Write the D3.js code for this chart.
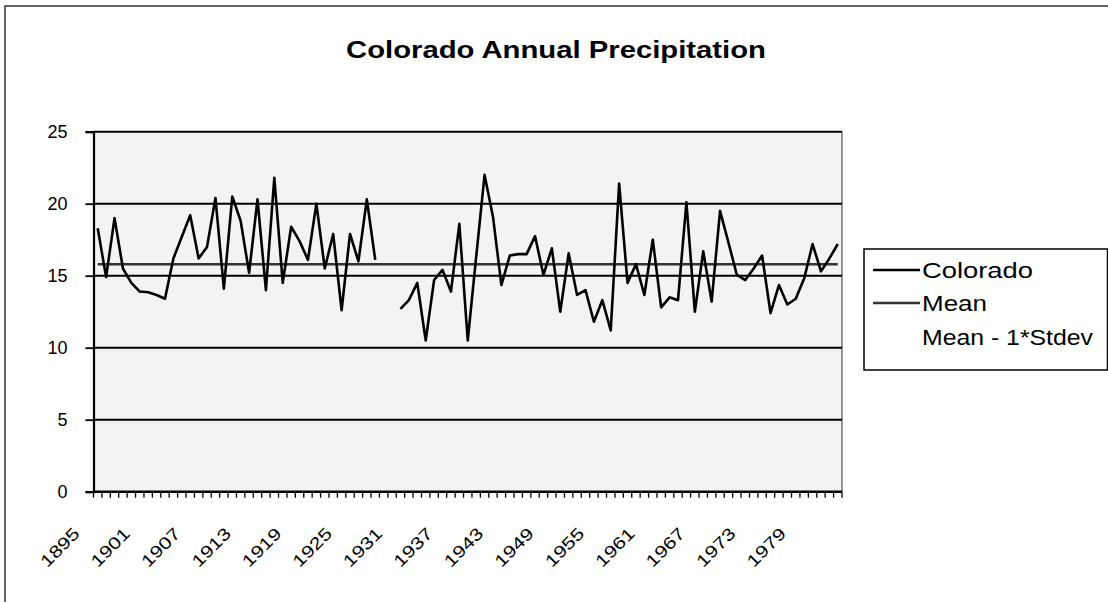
<!DOCTYPE html>
<html><head><meta charset="utf-8">
<script src="https://cdn.jsdelivr.net/npm/d3@7"></script>
<style>
html,body{margin:0;padding:0;background:#fff;}
svg{display:block;font-family:Arial,"Liberation Sans",sans-serif;}
</style>
</head><body>
<svg id="chart" width="1108" height="602"></svg>
<script>
// ---- data ----
const years = [1895,1896,1897,1898,1899,1900,1901,1902,1903,1904,1905,1906,1907,1908,1909,1910,
  1911,1912,1913,1914,1915,1916,1917,1918,1919,1920,1921,1922,1923,1924,1925,1926,1927,1928,1929,1930,
  1931,1932,1933,1934,1935,1936,1937,1938,1939,1940,1941,1942,1943,1944,1945,1946,1947,1948,1949,1950,
  1951,1952,1953,1954,1955,1956,1957,1958,1959,1960,1961,1962,1963,1964,1965,1966,1967,1968,1969,1970,
  1971,1972,1973,1974,1975,1976,1977,1978,1979,1980,1981,1982,1983];
const colorado = [18.3,14.9,19.0,15.5,14.5,13.9,13.85,13.66,13.4,16.2,17.7,19.2,16.2,17.0,20.4,14.1,
  20.5,18.8,15.2,20.3,14.0,21.8,14.5,18.4,17.4,16.1,20.0,15.5,17.9,12.6,17.9,16.0,20.3,16.1,null,null,
  12.7,13.3,14.5,10.5,14.7,15.4,13.9,18.6,10.5,16.3,22.0,19.1,14.35,16.4,16.5,16.5,17.75,15.05,16.9,12.5,
  16.55,13.66,14.0,11.8,13.3,11.2,21.4,14.5,15.8,13.66,17.5,12.8,13.5,13.3,20.1,12.5,16.7,13.2,19.5,17.3,
  15.05,14.7,15.5,16.4,12.4,14.35,13.0,13.4,14.8,17.2,15.3,16.2,17.2];
const meanValue = 15.8;
const yTicks = [0,5,10,15,20,25];
const xLabelYears = [1895,1901,1907,1913,1919,1925,1931,1937,1943,1949,1955,1961,1967,1973,1979];
const seriesNames = ["Colorado","Mean","Mean - 1*Stdev"];
const titleText = "Colorado Annual Precipitation";

// ---- layout ----
const plot = {left:93.5, right:842, top:131.7, bottom:491.7};
const svg = d3.select("#chart");

function stretch(sel, factor){
  sel.each(function(){
    const w = this.getComputedTextLength();
    d3.select(this).attr("textLength", w*factor).attr("lengthAdjust","spacingAndGlyphs");
  });
}

// chart area border
svg.append("rect").attr("x",5).attr("y",6).attr("width",1120).attr("height",620)
  .attr("fill","#fff").attr("stroke","#333").attr("stroke-width",1.5);

const x = d3.scaleBand().domain(years).range([plot.left, plot.right]).padding(0);
const cx = d => x(d) + x.bandwidth()/2;
const y = d3.scaleLinear().domain([0,25]).range([plot.bottom, plot.top]);

// plot area
svg.append("rect").attr("x",plot.left).attr("y",plot.top)
  .attr("width",plot.right-plot.left).attr("height",plot.bottom-plot.top)
  .attr("fill","#f3f3f3");
svg.append("line").attr("x1",plot.right).attr("x2",plot.right).attr("y1",plot.top).attr("y2",plot.bottom)
  .attr("stroke","#555").attr("stroke-width",1.2);

// gridlines
svg.append("g").selectAll("line").data(yTicks.filter(v=>v>0)).join("line")
  .attr("x1",plot.left).attr("x2",plot.right)
  .attr("y1",d=>y(d)).attr("y2",d=>y(d))
  .attr("stroke","#000").attr("stroke-width",2);

// y axis
const gy = svg.append("g").attr("transform",`translate(${plot.left},0)`)
  .call(d3.axisLeft(y).tickValues(yTicks).tickSize(8).tickPadding(18).tickFormat(d3.format("d")));
gy.select(".domain").attr("stroke","#000").attr("stroke-width",2.2);
gy.selectAll(".tick line").attr("stroke","#000").attr("stroke-width",1.8);
gy.selectAll(".tick text").attr("font-size",18).attr("fill","#000")
  .attr("font-family","Arial, 'Liberation Sans', sans-serif");

// x axis line + category ticks
svg.append("line").attr("x1",plot.left).attr("x2",plot.right)
  .attr("y1",plot.bottom).attr("y2",plot.bottom).attr("stroke","#000").attr("stroke-width",2.5);
svg.append("g").selectAll("line").data(years).join("line")
  .attr("x1",d=>x(d)).attr("x2",d=>x(d))
  .attr("y1",plot.bottom).attr("y2",plot.bottom+6)
  .attr("stroke","#000").attr("stroke-width",1.3);
svg.append("line").attr("x1",plot.right).attr("x2",plot.right)
  .attr("y1",plot.bottom).attr("y2",plot.bottom+6).attr("stroke","#000").attr("stroke-width",1.3);

// x labels
const gx = svg.append("g").attr("transform",`translate(0,${plot.bottom})`)
  .call(d3.axisBottom(x).tickValues(xLabelYears).tickSize(0).tickFormat(d3.format("d")));
gx.select(".domain").remove();
gx.selectAll(".tick text")
  .attr("x",0).attr("y",0).attr("dy",0)
  .attr("transform","translate(-17,43) rotate(-45)")
  .attr("text-anchor","end").attr("font-size",17).attr("fill","#000")
  .attr("font-family","Arial, 'Liberation Sans', sans-serif");
stretch(gx.selectAll(".tick text"), 1.25);

// mean line
svg.append("line")
  .attr("x1",cx(years[0])).attr("x2",cx(years[years.length-1]))
  .attr("y1",y(meanValue)).attr("y2",y(meanValue))
  .attr("stroke","#333").attr("stroke-width",2.5);

// Colorado series
const pts = years.map((yr,i)=>({year:yr, v:colorado[i]}));
const line = d3.line().defined(d=>d.v!=null).x(d=>cx(d.year)).y(d=>y(d.v));
svg.append("path").datum(pts).attr("d",line)
  .attr("fill","none").attr("stroke","#000").attr("stroke-width",2.6)
  .attr("stroke-linejoin","round");

// title
svg.append("text").attr("x",556).attr("y",58).attr("text-anchor","middle")
  .attr("font-size",24).attr("font-weight","bold").attr("fill","#000")
  .attr("textLength",420).attr("lengthAdjust","spacingAndGlyphs").text(titleText);

// legend
const lg = svg.append("g");
lg.append("rect").attr("x",864).attr("y",249).attr("width",243.5).attr("height",121)
  .attr("fill","#fff").attr("stroke","#000").attr("stroke-width",1.5);
const legendY = [270, 303, 337];
const legendStroke = ["#000","#333",null];
const legendTextLen = [111, 65, 171];
seriesNames.forEach((name,i)=>{
  if(legendStroke[i]){
    lg.append("line").attr("x1",873).attr("x2",920).attr("y1",legendY[i]).attr("y2",legendY[i])
      .attr("stroke",legendStroke[i]).attr("stroke-width",2.5);
  }
  lg.append("text").attr("x",922).attr("y",legendY[i]).attr("dy","0.36em")
    .attr("font-size",22).attr("fill","#000")
    .attr("textLength",legendTextLen[i]).attr("lengthAdjust","spacingAndGlyphs").text(name);
});
</script>
</body></html>
